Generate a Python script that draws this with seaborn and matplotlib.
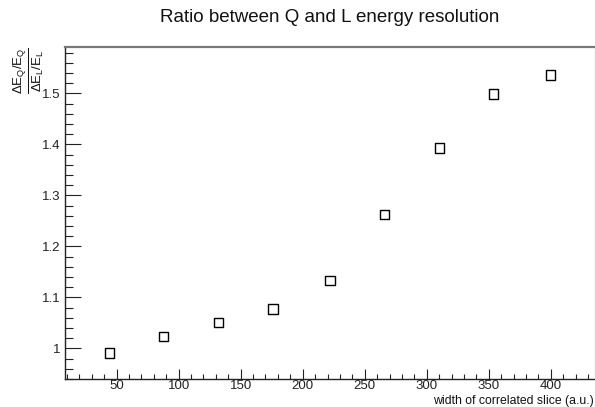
import numpy as np
import pandas as pd
import matplotlib
matplotlib.use('Agg')
import matplotlib.pyplot as plt
import seaborn as sns
from matplotlib.ticker import MultipleLocator, FuncFormatter

# Data
slice_width = [44, 88, 132, 176, 222, 266, 310, 354, 400]
res_ratio = [0.991, 1.024, 1.051, 1.077, 1.133, 1.263, 1.393, 1.499, 1.536]

df = pd.DataFrame({'width': slice_width, 'ratio': res_ratio})

sns.set_style('ticks')
plt.rcParams['font.family'] = ['Liberation Sans', 'DejaVu Sans']
plt.rcParams['mathtext.fontset'] = 'custom'
plt.rcParams['mathtext.rm'] = 'Liberation Sans'
plt.rcParams['mathtext.it'] = 'Liberation Sans'

fig = plt.figure(figsize=(5.95, 4.07), dpi=100)
ax = fig.add_axes([65 / 595, 1 - 379 / 407, 530 / 595, (379 - 47) / 407])

sns.scatterplot(data=df, x='width', y='ratio', marker='s', s=45,
                facecolor='none', edgecolor='black', linewidth=1.0, ax=ax)

ax.set_xlim(8.4, 435.6)
ax.set_ylim(0.94, 1.591)

ax.xaxis.set_major_locator(MultipleLocator(50))
ax.xaxis.set_minor_locator(MultipleLocator(10))
ax.yaxis.set_major_locator(MultipleLocator(0.1))
ax.yaxis.set_minor_locator(MultipleLocator(0.02))
ax.yaxis.set_major_formatter(FuncFormatter(lambda v, _: f'{v:g}'))

ax.tick_params(axis='x', which='major', direction='in', length=7.2, width=0.8,
               labelsize=9.5, pad=1, colors='#222222')
ax.tick_params(axis='x', which='minor', direction='in', length=3.6, width=0.8,
               colors='#222222')
ax.tick_params(axis='y', which='major', direction='in', length=11.3, width=0.8,
               labelsize=9.5, pad=3, colors='#222222')
ax.tick_params(axis='y', which='minor', direction='in', length=6, width=0.8,
               colors='#222222')

for side in ['left', 'bottom']:
    ax.spines[side].set_color('#222222')
    ax.spines[side].set_linewidth(1.0)
ax.spines['top'].set_color('#777777')
ax.spines['top'].set_linewidth(1.6)
ax.spines['right'].set_color('#cccccc')
ax.spines['right'].set_linewidth(1.0)

ax.set_xlabel('')
ax.set_ylabel('')

fig.text(330 / 595, 1 - 17 / 407, 'Ratio between Q and L energy resolution',
         ha='center', va='center', fontsize=13.5, color='#111111')
fig.text(594 / 595, 0.001, 'width of correlated slice (a.u.)',
         ha='right', va='bottom', fontsize=8.8, color='#111111')
fig.text(29 / 595, 1 - 47 / 407,
         r'$\frac{\Delta E_{Q}/E_{Q}}{\Delta E_{L}/E_{L}}$',
         rotation=90, ha='center', va='top', fontsize=13.5, color='#111111')

fig.savefig('out.png', dpi=100)
